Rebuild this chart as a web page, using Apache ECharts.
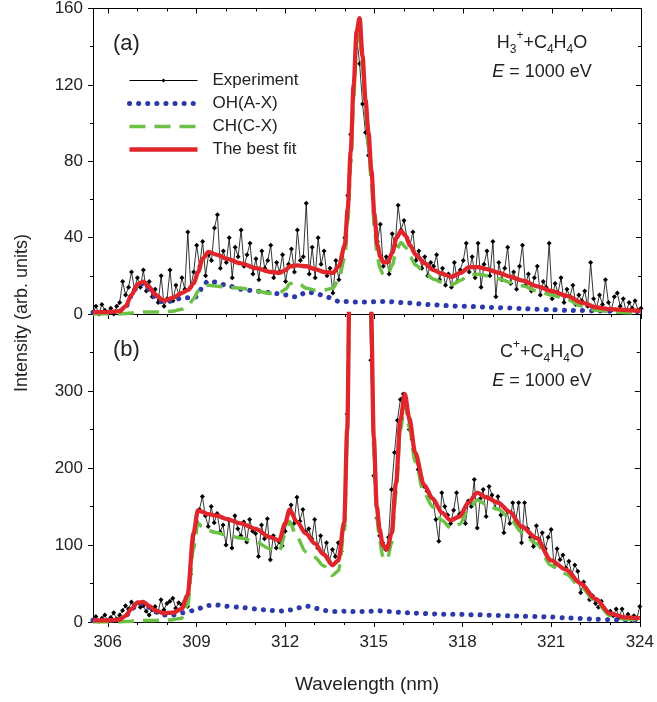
<!DOCTYPE html>
<html>
<head>
<meta charset="utf-8">
<script src="https://cdn.jsdelivr.net/npm/echarts@6/dist/echarts.min.js"></script>
<style>
html, body { margin: 0; padding: 0; background: #fff; }
#chart { width: 657px; height: 702px; }
</style>
</head>
<body>
<div id="chart"></div>
<script>
// measured spectra are sampled every 0.1 nm from 305.5 to 324.0 nm
const EXP_START = 305.5;
const EXP_STEP = 0.1;

// (a) H3+ + C4H4O, experiment
const expA = [
  1, 4, 0, 5, 2,
  1, 3, 0, 4, 6, 17, 10, 14, 22, 13,
  19, 14, 23, 12, 17, 9, 13, 6, 20, 4,
  8, 23, 7, 15, 10, 19, 13, 43, 14, 22,
  36, 25, 38, 20, 31, 28, 45, 52, 24, 33,
  27, 40, 19, 35, 30, 44, 25, 31, 37, 21,
  29, 18, 33, 24, 28, 36, 19, 27, 22, 31,
  17, 26, 34, 22, 44, 28, 30, 58, 21, 35,
  19, 40, 26, 33, 20, 24, 11, 28, 18, 30,
  40, 62, 94, 118, 146, 131, 110, 95, 83, 73,
  52, 38, 47, 25, 30, 21, 42, 36, 57, 44,
  49, 40, 36, 43, 28, 33, 24, 30, 20, 27,
  25, 31, 18, 24, 15, 21, 14, 27, 17, 23,
  28, 37, 22, 30, 19, 37, 14, 26, 33, 20,
  38, 9, 27, 18, 24, 35, 16, 22, 13, 25,
  36, 15, 21, 12, 19, 25, 10, 17, 14, 37,
  8, 16, 11, 19, 6, 13, 9, 15, 5, 10,
  7, 12, 4, 27, 8, 3, 10, 5, 18, 6,
  2, 9, 11, 4, 8, 1, 6, 3, 7, 2,
  3
];

// (b) C+ + C4H4O, experiment
const expB = [
  3, 7, 1, 5, 9,
  2, 6, 12, 4, 9, 15, 21, 17, 26, 22,
  25, 19, 21, 14, 9, 16, 20, 13, 29, 16,
  24, 27, 31, 18, 25, 22, 27, 20, 62, 98,
  131, 146, 163, 138, 124, 150, 129, 141, 117, 126,
  100, 132, 96, 138, 121, 112, 130, 104, 133, 118,
  115, 85, 126, 108, 134, 81, 112, 96, 104, 99,
  118, 140, 152, 128, 162, 131, 146, 117, 121, 108,
  133, 96, 112, 88, 103, 79, 94, 85, 103, 92,
  125, 270, 520, 860, 1080, 1150, 1000, 760, 480, 340,
  190, 135, 112, 103, 94, 110, 172, 220, 262, 289,
  296, 278, 250, 237, 215, 198, 188, 176, 170, 163,
  160, 133, 105, 168, 150, 139, 128, 145, 168, 140,
  143, 128, 157, 150, 185, 122, 160, 172, 137, 176,
  165, 148, 163, 139, 116, 145, 128, 155, 132, 155,
  103, 155, 121, 110, 98, 125, 107, 116, 95, 110,
  120, 72, 95, 81, 87, 70, 79, 62, 74, 66,
  38, 52, 41, 29, 34, 24, 19, 27, 17, 12,
  14, 8, 17, 6, 17, 4, 10, 3, 8, 5,
  20
];

// wavelengths of the simulated / fitted curves
const fitWl = [
  305.5, 306.0, 306.4, 306.6, 306.8, 307.0, 307.2, 307.4, 307.6, 307.9,
  308.2, 308.5, 308.7, 308.9, 309.05, 309.2, 309.4, 309.7, 310.0, 310.5,
  311.0, 311.5, 311.8, 312.0, 312.15, 312.4, 312.7, 313.0, 313.3, 313.6,
  313.8, 314.0, 314.1, 314.2, 314.3, 314.4, 314.5, 314.6, 314.7, 314.8,
  314.9, 315.0, 315.1, 315.2, 315.3, 315.45, 315.6, 315.75, 315.9, 316.05,
  316.2, 316.4, 316.7, 317.0, 317.3, 317.6, 317.9, 318.2, 318.5, 318.8,
  319.2, 319.6, 320.0, 320.5, 321.0, 321.5, 322.0, 322.5, 323.0, 323.5,
  324.0
];

const ohA = [
  0.8, 1, 1.5, 3.7, 9.5, 14.7, 16, 13, 9, 5.8,
  7, 8.5, 8.5, 8, 10, 14.5, 17.5, 16.5, 15, 13,
  12, 11.2, 10.5, 10, 9, 9, 11.5, 11, 9.5, 8,
  6.5, 6.5, 6.5, 6.3, 6.3, 6.3, 6.3, 6.3, 6.3, 6.3,
  6.3, 6.4, 6.5, 6.5, 6.5, 6.5, 6.4, 6.2, 6, 6,
  5.8, 5.5, 5, 4.8, 4.5, 4.2, 4, 4, 3.8, 3.5,
  3.3, 3.1, 2.8, 2.5, 2.2, 1.9, 1.8, 1.6, 1.4, 1.3,
  1.2
];
const chA = [
  0, 0, 0, 0.3, 0.5, 0.8, 1, 1, 1, 1.2,
  1.5, 2.5, 4, 8, 12, 14.5, 15, 14.5, 14, 13.5,
  12, 10.8, 11, 13, 16, 16.5, 13.5, 12.5, 12.5, 13.5,
  18.5, 29.5, 48.5, 78.5, 113.5, 141.5, 148.5, 128.5, 105.5, 88.5,
  68.5, 45.5, 29.5, 23.5, 20.5, 20.5, 25.5, 33.8, 37.5, 35,
  30, 25.5, 21.5, 18.2, 16.5, 15.3, 17.5, 20.5, 20.8, 20,
  18.5, 16.5, 14.8, 12, 9.8, 7.6, 4.2, 1.9, 1.1, 0.7,
  0.3
];
const fitA = [
  1, 1, 1.5, 4, 10, 15.5, 17, 14, 10, 7,
  8.5, 11, 12.5, 16, 22, 29, 32.5, 31, 29, 26.5,
  24, 22, 21.5, 23, 25, 25.5, 25, 23.5, 22, 21.5,
  25, 36, 55, 85, 120, 148, 155, 135, 112, 95,
  75, 52, 36, 30, 27, 27, 32, 40, 43.5, 41,
  36, 31, 26.5, 23, 21, 19.5, 21.5, 24.5, 24.5, 23.5,
  21.5, 19.5, 17.5, 14.5, 12, 9.5, 6, 3.5, 2.5, 2,
  1.5
];

const ohB = [
  2, 2, 3, 7.5, 16, 23.5, 24, 19, 13, 9,
  9, 12, 13, 15, 17, 19, 21.5, 22, 20.5, 19,
  17, 15, 14, 14.5, 15.5, 18, 21, 18, 15, 13.5,
  13.5, 14, 14, 14, 13.5, 13.5, 13.5, 13.5, 13.5, 13.5,
  14, 14, 14.5, 14.5, 14, 13.5, 13.5, 13, 12.5, 12,
  12, 11.5, 11, 10.5, 10, 10, 10, 9.5, 9.5, 9,
  8.5, 8, 7.5, 7, 6.5, 5.5, 4.5, 3.5, 3, 2.5,
  2
];
const chB = [
  0, 0, 0, 0.5, 1, 1.5, 2, 2, 2, 2.5,
  3, 5, 22, 95, 128, 124, 118.5, 116, 113, 109,
  104, 95, 92, 113.5, 130.5, 110, 91, 84, 73, 60.5,
  66.5, 116, 236, 486, 836.5, 1086.5, 1166.5, 1036.5, 786.5, 546.5,
  406, 226, 135.5, 105.5, 86, 80.5, 102, 167, 249.5, 284,
  253, 208.5, 167, 149.5, 132, 122, 127, 145.5, 158.5, 153,
  146.5, 135, 116.5, 102, 73.5, 62.5, 45.5, 26.5, 8, 3.5,
  3
];
const fitB = [
  2, 2, 3, 8, 17, 25, 26, 21, 15, 11.5,
  12, 17, 35, 115, 145, 143, 140, 138, 134, 128,
  121, 110, 106, 128, 146, 130, 115, 102, 88, 74,
  80, 130, 250, 500, 850, 1100, 1180, 1050, 800, 560,
  420, 240, 150, 120, 100, 94, 115, 180, 262, 296,
  265, 220, 178, 160, 142, 132, 137, 155, 168, 162,
  155, 143, 124, 109, 80, 68, 50, 30, 11, 6,
  5
];

const xMajorTicks = [306, 309, 312, 315, 318, 321, 324];
const xMinorTicks = [307, 308, 310, 311, 313, 314, 316, 317, 319, 320, 322, 323];

const FONT = "'Liberation Sans', Arial, sans-serif";
const TXT = '#222';
const C_EXP = '#000';
const C_OH = '#2b3aa8';
const C_CH = '#6cc046';
const C_FIT = '#e0252b';
const OH_LINE = { color: C_OH, width: 5, type: [0.1, 9], cap: 'round' };
const CH_LINE = { color: C_CH, width: 3.5, type: [16, 9] };
const FIT_LINE = { color: C_FIT, width: 4.3 };

const chart = echarts.init(document.getElementById('chart'));

function expPairs(vals) {
  return vals.map((v, i) => [+(EXP_START + i * EXP_STEP).toFixed(2), v]);
}
function fitPairs(vals) {
  return fitWl.map((w, i) => [w, vals[i]]);
}

function xAxisDef(grid, pos, ticks, len, inside, labels) {
  return {
    type: 'value', gridIndex: grid, position: pos, offset: 0,
    min: 305.5, max: 324,
    axisLine: { show: true, onZero: false, lineStyle: { color: '#000', width: 1 } },
    axisTick: { show: true, customValues: ticks, inside: inside, length: len, lineStyle: { color: '#000' } },
    axisLabel: labels
      ? { show: true, customValues: xMajorTicks, margin: 12, fontSize: 17, fontFamily: FONT, color: TXT }
      : { show: false },
    splitLine: { show: false }
  };
}

function yAxisDef(grid, pos, max, interval, labels) {
  return {
    type: 'value', gridIndex: grid, position: pos,
    min: 0, max: max, interval: interval,
    axisLine: { show: true, lineStyle: { color: '#000', width: 1 } },
    axisTick: { show: true, inside: !labels, length: 5, lineStyle: { color: '#000' } },
    minorTick: { show: true, splitNumber: 2, length: 3, lineStyle: { color: '#000' } },
    axisLabel: labels
      ? { show: true, margin: 10, fontSize: 17, fontFamily: FONT, color: TXT, showMaxLabel: grid === 0 }
      : { show: false },
    splitLine: { show: false }
  };
}

function panelSeries(xi, yi, exp, oh, ch, fit) {
  return [
    {
      name: 'Experiment', type: 'line', xAxisIndex: xi, yAxisIndex: yi,
      data: expPairs(exp), symbol: 'diamond', symbolSize: 5, showSymbol: true,
      lineStyle: { color: C_EXP, width: 0.8 }, itemStyle: { color: C_EXP }, z: 2
    },
    {
      name: 'OH(A-X)', type: 'line', xAxisIndex: xi, yAxisIndex: yi,
      data: fitPairs(oh), symbol: 'none', smooth: 0.3, smoothMonotone: 'x',
      lineStyle: OH_LINE, itemStyle: { color: C_OH }, z: 3
    },
    {
      name: 'CH(C-X)', type: 'line', xAxisIndex: xi, yAxisIndex: yi,
      data: fitPairs(ch), symbol: 'none', smooth: 0.3, smoothMonotone: 'x',
      lineStyle: CH_LINE, itemStyle: { color: C_CH }, z: 4
    },
    {
      name: 'The best fit', type: 'line', xAxisIndex: xi, yAxisIndex: yi,
      data: fitPairs(fit), symbol: 'none', smooth: 0.3, smoothMonotone: 'x',
      lineStyle: FIT_LINE, itemStyle: { color: C_FIT }, z: 5
    }
  ];
}

const rich = {
  n: { fontSize: 18, fontFamily: FONT, fill: TXT, lineHeight: 26, verticalAlign: 'middle' },
  i: { fontSize: 18, fontFamily: FONT, fontStyle: 'italic', fill: TXT, lineHeight: 26, verticalAlign: 'middle' },
  sub: { fontSize: 12, fontFamily: FONT, fill: TXT, lineHeight: 12, verticalAlign: 'bottom' },
  sup: { fontSize: 12, fontFamily: FONT, fill: TXT, lineHeight: 12, verticalAlign: 'top' }
};

function label(x, y, text) {
  return { type: 'text', x: x, y: y, style: { text: text, rich: rich, align: 'center', verticalAlign: 'middle' } };
}

chart.setOption({
  animation: false,
  backgroundColor: '#fff',
  grid: [
    { left: 93, right: 16, top: 7, height: 307 },
    { left: 93, right: 16, top: 314, height: 308 }
  ],
  xAxis: [
    xAxisDef(0, 'bottom', xMajorTicks, 5, false, false),
    xAxisDef(0, 'bottom', xMinorTicks, 3, false, false),
    xAxisDef(0, 'top', xMajorTicks, 5, true, false),
    xAxisDef(0, 'top', xMinorTicks, 3, true, false),
    xAxisDef(1, 'bottom', xMajorTicks, 5, false, true),
    xAxisDef(1, 'bottom', xMinorTicks, 3, false, false)
  ],
  yAxis: [
    yAxisDef(0, 'left', 160, 40, true),
    yAxisDef(0, 'right', 160, 40, false),
    yAxisDef(1, 'left', 400, 100, true),
    yAxisDef(1, 'right', 400, 100, false)
  ],
  legend: {
    data: [
      { name: 'Experiment', lineStyle: { color: C_EXP, width: 1.2 } },
      { name: 'OH(A-X)', itemStyle: { opacity: 0 }, lineStyle: OH_LINE },
      { name: 'CH(C-X)', itemStyle: { opacity: 0 }, lineStyle: CH_LINE },
      { name: 'The best fit', itemStyle: { opacity: 0 }, lineStyle: FIT_LINE }
    ],
    orient: 'vertical', left: 122, top: 67,
    itemWidth: 68, itemHeight: 5, itemGap: 6,
    textStyle: { fontSize: 17, fontFamily: FONT, color: TXT, padding: [0, 0, 0, 10] }
  },
  graphic: [
    { type: 'text', left: 113, top: 33, style: { text: '(a)', fontSize: 22, fontFamily: FONT, fill: TXT } },
    { type: 'text', left: 113, top: 339, style: { text: '(b)', fontSize: 22, fontFamily: FONT, fill: TXT } },
    label(542, 43, '{n|H}{sub|3}{sup|+}{n|+C}{sub|4}{n|H}{sub|4}{n|O}'),
    label(542, 72, '{i|E}{n| = 1000 eV}'),
    label(542, 352, '{n|C}{sup|+}{n|+C}{sub|4}{n|H}{sub|4}{n|O}'),
    label(542, 381, '{i|E}{n| = 1000 eV}'),
    {
      type: 'text', x: 22, y: 313, rotation: Math.PI / 2,
      style: { text: 'Intensity (arb. units)', fontSize: 18, fontFamily: FONT, fill: TXT, align: 'center', verticalAlign: 'middle' }
    },
    {
      type: 'text', x: 367, y: 685,
      style: { text: 'Wavelength (nm)', fontSize: 19, fontFamily: FONT, fill: TXT, align: 'center', verticalAlign: 'middle' }
    }
  ],
  series: [].concat(
    panelSeries(0, 0, expA, ohA, chA, fitA),
    panelSeries(4, 2, expB, ohB, chB, fitB)
  )
});
</script>
</body>
</html>
